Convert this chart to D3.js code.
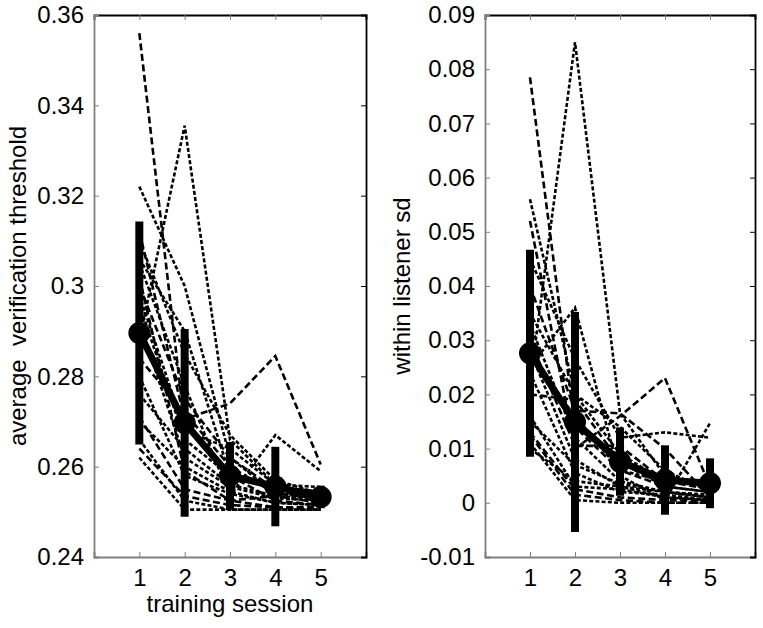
<!DOCTYPE html>
<html>
<head>
<meta charset="utf-8">
<script src="https://cdn.jsdelivr.net/npm/d3@7"></script>
<style>
  body { margin: 0; background: #fff; }
  text { font-family: "Liberation Sans", Arial, sans-serif; }
</style>
</head>
<body>
<svg width="763" height="628"></svg>
<script>
const sessions = [1, 2, 3, 4, 5];

// average verification threshold per listener
const thrListeners = [
  [0.356, 0.269, 0.258, 0.2525, 0.2515],
  [0.322, 0.300, 0.262, 0.254, 0.253],
  [0.288, 0.3355, 0.266, 0.256, 0.2535],
  [0.312, 0.2705, 0.274, 0.2845, 0.2605],
  [0.305, 0.278, 0.2535, 0.267, 0.259],
  [0.310, 0.285, 0.267, 0.257, 0.254],
  [0.300, 0.275, 0.262, 0.255, 0.252],
  [0.296, 0.266, 0.258, 0.2555, 0.254],
  [0.292, 0.262, 0.2555, 0.253, 0.2525],
  [0.284, 0.272, 0.260, 0.254, 0.2535],
  [0.280, 0.258, 0.254, 0.252, 0.2515],
  [0.276, 0.264, 0.256, 0.2535, 0.253],
  [0.271, 0.255, 0.2525, 0.251, 0.2505],
  [0.270, 0.260, 0.2545, 0.252, 0.2515],
  [0.266, 0.2525, 0.2505, 0.2505, 0.2505],
  [0.264, 0.2535, 0.2515, 0.251, 0.251],
  [0.262, 0.2505, 0.2505, 0.2505, 0.2505],
  [0.306, 0.290, 0.258, 0.2555, 0.2545],
  [0.302, 0.259, 0.2525, 0.2535, 0.252],
  [0.298, 0.268, 0.264, 0.256, 0.2555]
];
const thrMean = [0.2896, 0.2697, 0.2580, 0.2556, 0.2533];
const thrErr = [0.0247, 0.0208, 0.0075, 0.0088, 0.0025];
const thrTicks = [0.24, 0.26, 0.28, 0.30, 0.32, 0.34, 0.36];

// within listener sd per listener
const sdListeners = [
  [0.0785, 0.014, 0.006, 0.003, 0.002],
  [0.022, 0.085, 0.0165, 0.005, 0.003],
  [0.056, 0.020, 0.009, 0.004, 0.003],
  [0.052, 0.010, 0.016, 0.023, 0.003],
  [0.045, 0.0265, 0.012, 0.013, 0.012],
  [0.025, 0.036, 0.005, 0.0005, 0.0147],
  [0.040, 0.017, 0.0165, 0.010, 0.001],
  [0.035, 0.020, 0.014, 0.006, 0.002],
  [0.033, 0.012, 0.004, 0.002, 0.0015],
  [0.030, 0.0105, 0.0105, 0.004, 0.0025],
  [0.028, 0.008, 0.003, 0.002, 0.001],
  [0.024, 0.0055, 0.002, 0.0015, 0.0005],
  [0.020, 0.019, 0.0075, 0.003, 0.002],
  [0.016, 0.003, 0.0025, 0.001, 0.0005],
  [0.015, 0.007, 0.0035, 0.002, 0.001],
  [0.013, 0.0025, 0.001, 0.0005, 0.0003],
  [0.011, 0.0005, 0.0, 0.0, 0.0],
  [0.010, 0.004, 0.003, 0.001, 0.0005],
  [0.0125, 0.0015, 0.0005, 0.0, 0.0],
  [0.027, 0.016, 0.006, 0.004, 0.003]
];
const sdMean = [0.0276, 0.0149, 0.0076, 0.0042, 0.0036];
const sdErr = [0.0191, 0.0203, 0.0063, 0.0064, 0.0046];
const sdTicks = [-0.01, 0, 0.01, 0.02, 0.03, 0.04, 0.05, 0.06, 0.07, 0.08, 0.09];

const svg = d3.select("svg");
const fmt = d => String(+d.toFixed(2));

function panel(opts) {
  const x = d3.scaleLinear().domain([0, 6]).range([opts.left, opts.right]);
  const y = d3.scaleLinear().domain(opts.domain).range([557, 15]);
  const g = svg.append("g");

  const line = d3.line().x((d, i) => x(sessions[i])).y(d => y(d));

  // individual listeners
  g.selectAll("path.ind")
    .data(opts.listeners)
    .enter().append("path")
    .attr("class", "ind")
    .attr("fill", "none")
    .attr("stroke", "#000")
    .attr("stroke-width", 2.6)
    .attr("stroke-dasharray", (d, i) => i % 3 === 0 ? "7,3.5" : "4,2.2")
    .attr("d", line);

  // mean line
  g.append("path")
    .datum(opts.mean)
    .attr("fill", "none")
    .attr("stroke", "#000")
    .attr("stroke-width", 7)
    .attr("d", line);

  // error bars
  g.selectAll("line.err")
    .data(opts.mean)
    .enter().append("line")
    .attr("x1", (d, i) => x(sessions[i]))
    .attr("x2", (d, i) => x(sessions[i]))
    .attr("y1", (d, i) => y(d - opts.err[i]))
    .attr("y2", (d, i) => y(d + opts.err[i]))
    .attr("stroke", "#000")
    .attr("stroke-width", 8);

  g.selectAll("circle")
    .data(opts.mean)
    .enter().append("circle")
    .attr("cx", (d, i) => x(sessions[i]))
    .attr("cy", d => y(d))
    .attr("r", 11)
    .attr("fill", "#000");

  // axes: ticks inward on every side
  const bottom = g.append("g")
    .attr("transform", `translate(0,557)`)
    .call(d3.axisBottom(x).tickValues(sessions).tickSize(-5).tickPadding(12).tickFormat(d3.format("d")));
  const top = g.append("g")
    .attr("transform", `translate(0,15)`)
    .call(d3.axisTop(x).tickValues(sessions).tickSize(-5).tickFormat(""));
  const left = g.append("g")
    .attr("transform", `translate(${opts.left},0)`)
    .call(d3.axisLeft(y).tickValues(opts.ticks).tickSize(-5).tickPadding(10).tickFormat(fmt));
  const right = g.append("g")
    .attr("transform", `translate(${opts.right},0)`)
    .call(d3.axisRight(y).tickValues(opts.ticks).tickSize(-5).tickFormat(""));

  [bottom, top, left, right].forEach(a => {
    a.selectAll("path.domain").attr("stroke-width", 1.8);
    a.selectAll("text").attr("font-size", 24).attr("fill", "#000")
      .style("font-family", '"Liberation Sans", Arial, sans-serif');
  });
  bottom.selectAll("path.domain, line").attr("stroke", "#808080");
  left.selectAll("path.domain, line").attr("stroke", "#808080");
  top.select("path.domain").attr("stroke", "#000");
  top.selectAll("line").attr("stroke", "#808080");
  right.selectAll("path.domain, line").attr("stroke", "#000");

  // y label
  g.append("text")
    .attr("transform", `translate(${opts.labelX},286) rotate(-90)`)
    .attr("text-anchor", "middle")
    .attr("font-size", 24)
    .style("white-space", "pre")
    .text(opts.ylabel);

  return x;
}

panel({
  left: 94, right: 366, domain: [0.24, 0.36],
  listeners: thrListeners, mean: thrMean, err: thrErr, ticks: thrTicks,
  ylabel: "average  verification threshold", labelX: 26
});

panel({
  left: 485, right: 755, domain: [-0.01, 0.09],
  listeners: sdListeners, mean: sdMean, err: sdErr, ticks: sdTicks,
  ylabel: "within listener sd", labelX: 410
});

svg.append("text")
  .attr("x", 230)
  .attr("y", 612)
  .attr("text-anchor", "middle")
  .attr("font-size", 24)
  .text("training session");
</script>
</body>
</html>
